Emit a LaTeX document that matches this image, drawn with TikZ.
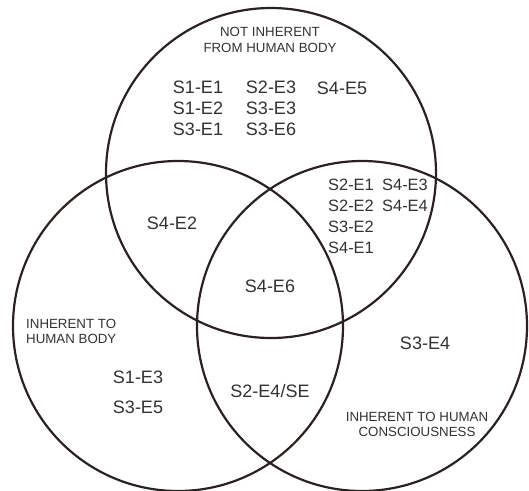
\documentclass[tikz,border=0pt]{standalone}
\usepackage{fontspec}
\setmainfont{Liberation Sans}
\definecolor{ring}{HTML}{2A2220}
\definecolor{ink}{HTML}{333131}

\begin{document}
\begin{tikzpicture}[x=1pt,y=-1pt,
    ring/.style={line width=2.2pt,draw=ring},
    code/.style={text=ink,font=\fontsize{18}{21}\selectfont,inner sep=0pt,align=left},
    codes/.style={code,font=\fontsize{16.4}{21}\selectfont},
    tag/.style={text=ink,font=\fontsize{13.3}{15.5}\selectfont,inner sep=0pt,align=center}]
    \useasboundingbox (0,0) rectangle (529,490);
    \coordinate (upper) at (271,173);
    \coordinate (lowleft) at (178,326);
    \coordinate (lowright) at (362,326);
    \draw[ring] (upper) circle[radius=165pt];
    \draw[ring] (lowleft) circle[radius=165pt];
    \draw[ring] (lowright) circle[radius=165pt];
    \node[tag] (notbody) at (270,40) {NOT INHERENT\\FROM HUMAN BODY};
    \node[code] (top1) at (198,108) {S1-E1\\S1-E2\\S3-E1};
    \node[code] (top2) at (271,108) {S2-E3\\S3-E3\\S3-E6};
    \node[code] (top3) at (342,88) {S4-E5};
    \node[code] (topleft) at (172,223) {S4-E2};
    \node[code] (middle) at (270,286) {S4-E6};
    \node[codes,anchor=west] (topright1) at (328,216.5) {S2-E1\\S2-E2\\S3-E2\\S4-E1};
    \node[codes,anchor=west] (topright2) at (382,195.5) {S4-E3\\S4-E4};
    \node[tag,align=left,anchor=west] (body) at (26,331.5) {INHERENT TO\\HUMAN BODY};
    \node[code] (left1) at (138,377) {S1-E3};
    \node[code] (left2) at (138,407) {S3-E5};
    \node[code] (bottom) at (270,391) {S2-E4/SE};
    \node[code] (right) at (425,343) {S3-E4};
    \node[tag] (mind) at (417,424.5) {INHERENT TO HUMAN\\CONSCIOUSNESS};
\end{tikzpicture}
\end{document}
